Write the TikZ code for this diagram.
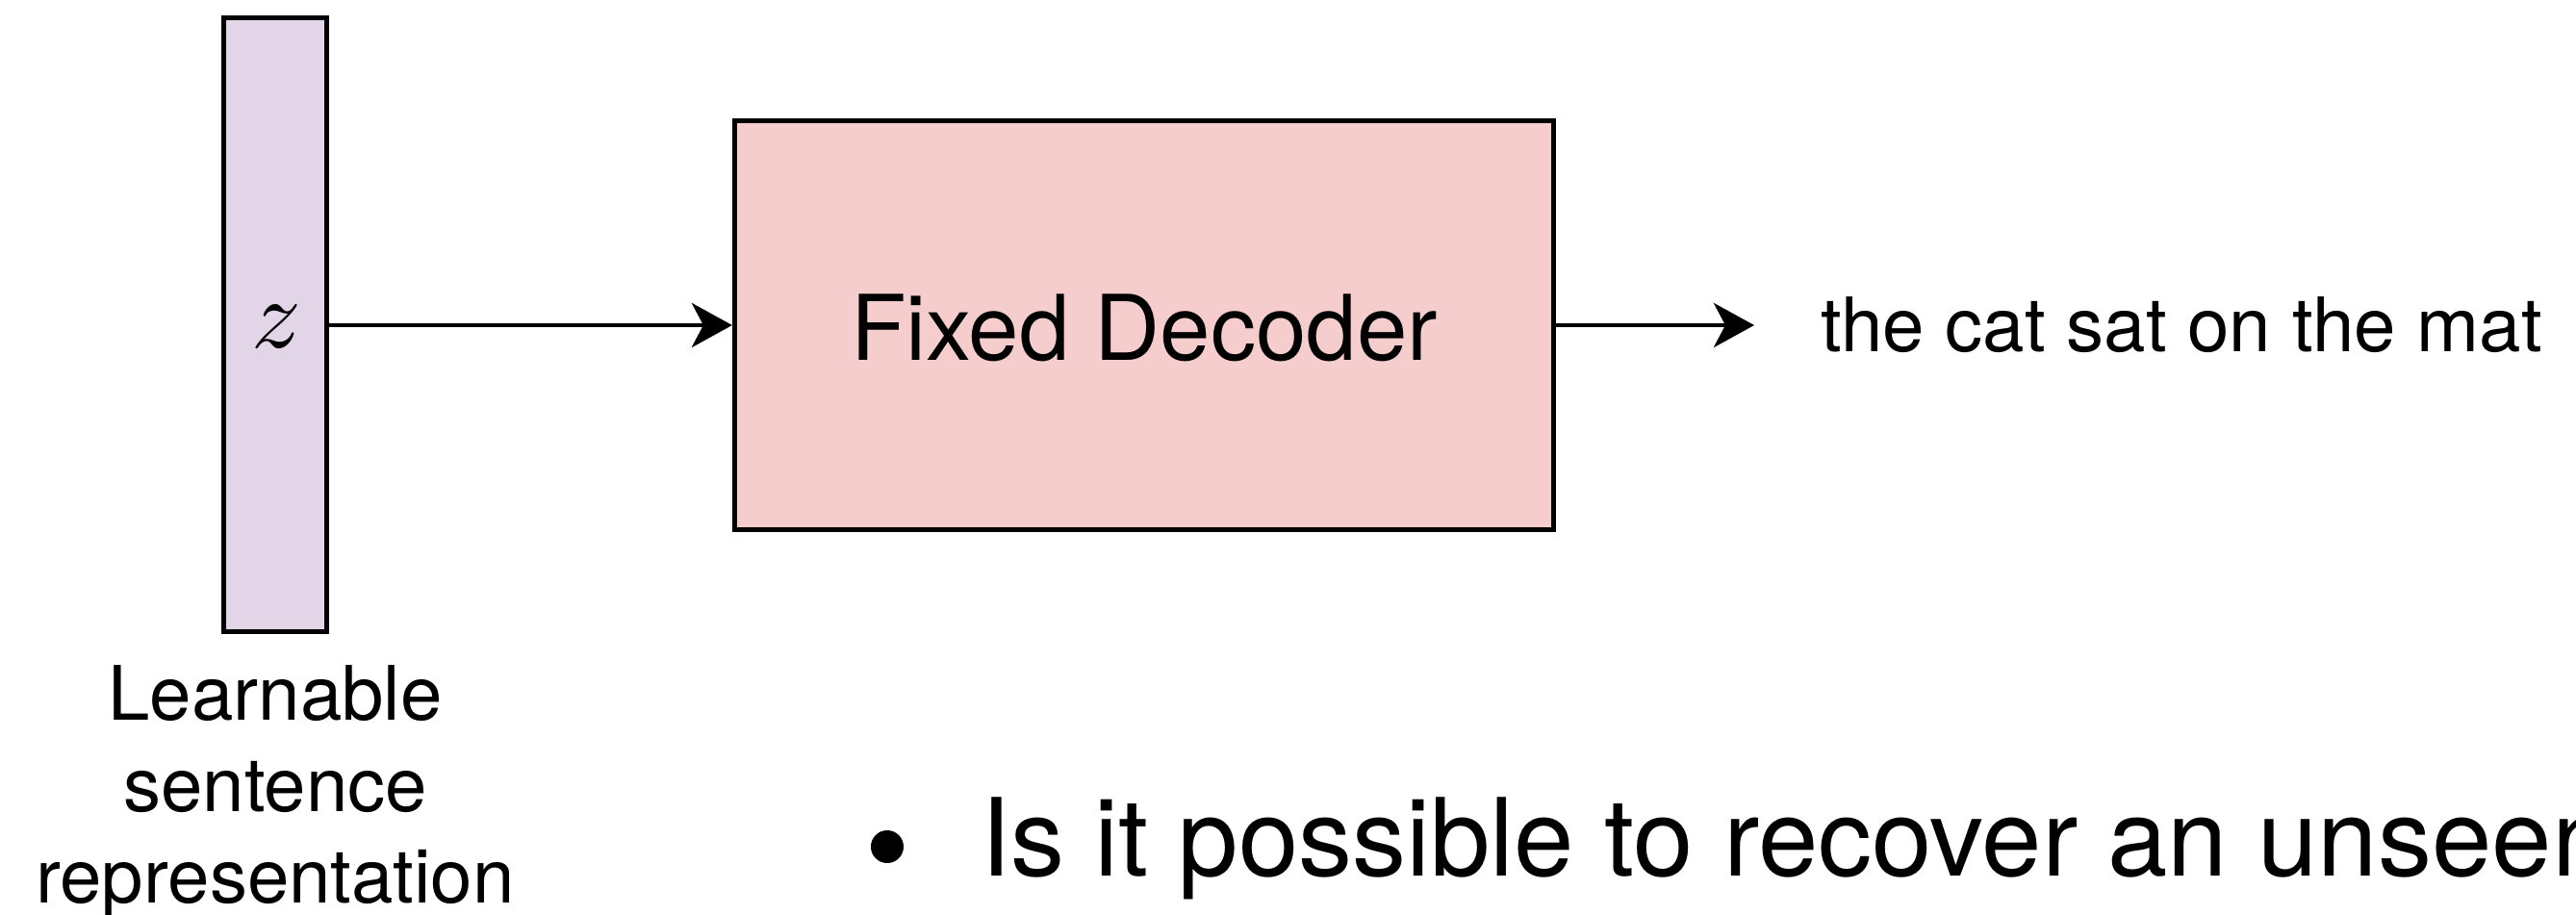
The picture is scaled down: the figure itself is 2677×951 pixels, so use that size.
\documentclass[tikz,border=0pt]{standalone}
\usepackage{fontspec}
\usepackage{graphicx}
\setmainfont{TeX Gyre Heros}
\usetikzlibrary{arrows.meta}
\definecolor{vecfill}{HTML}{E1D5E7}
\definecolor{decfill}{HTML}{F5CDCD}
\begin{document}
\begin{tikzpicture}[x=0.01cm, y=-0.01cm, line width=0.047cm,
  vecbox/.style={draw=black, fill=vecfill, minimum width=1.07cm, minimum height=6.38cm, inner sep=0},
  decbox/.style={draw=black, fill=decfill, minimum width=8.51cm, minimum height=4.25cm, inner sep=0},
  plain/.style={inner sep=0, outer sep=0},
  lbl/.style={plain, font=\fontsize{22.2}{27}\selectfont},
  flow/.style={-{Stealth[length=0.42cm, width=0.46cm, inset=0.12cm]}}
]
\useasboundingbox (0,0) rectangle (2677,951);
\clip (0,0) rectangle (2677,951);

% learnable vector z
\node[vecbox] (zvec) at (286,337.5) {};
\node[plain] (zsym) at (287,340) {\scalebox{2.9}{$z$}};

% decoder block
\node[decbox] (dec) at (1189,338) {};
\node[plain, anchor=base, font=\fontsize{26.8}{30}\selectfont] (dectext) at (1189,374) {Fixed Decoder};

% output sentence
\coordinate (outtip) at (1823,338);
\node[lbl, anchor=base west] (sent) at (1892,365) {the cat sat on the mat};

\draw[flow] (zvec.east |- dec.west) -- (dec.west);
\draw[flow] (dec.east) -- (outtip);

% caption under the vector
\node[lbl, anchor=base] (cap1) at (286,748) {Learnable};
\node[lbl, anchor=base] (cap2) at (286,843) {sentence};
\node[lbl, anchor=base] (cap3) at (286,938) {representation};

% bullet point
\node[circle, fill=black, minimum size=0.34cm, inner sep=0] (bul) at (922,880) {};
\node[plain, anchor=base west, font=\fontsize{31.9}{36}\selectfont] (question) at (1019,910) {Is it possible to recover an unseen};
\end{tikzpicture}
\end{document}
